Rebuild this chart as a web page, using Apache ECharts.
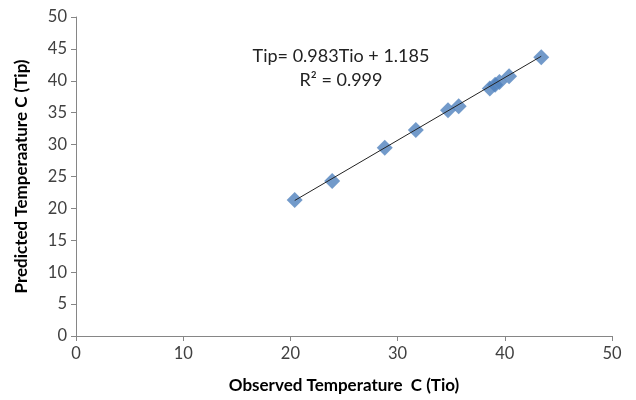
<!DOCTYPE html>
<html><head><meta charset="utf-8">
<script src="https://cdn.jsdelivr.net/npm/echarts@6/dist/echarts.min.js"></script>
<style>html,body{margin:0;padding:0;background:#fff}#c{width:636px;height:400px}</style>
</head><body><div id="c"></div>
<script>
var observed = [20.4, 23.9, 28.8, 31.7, 34.7, 35.7, 38.6, 39.1, 39.5, 40.4, 43.4];
var predicted = [21.3, 24.3, 29.5, 32.3, 35.4, 36.0, 38.8, 39.4, 39.8, 40.7, 43.7];
var slope = 0.983, intercept = 1.185;
var trendX = [20.4, 43.4];
var xTicks = [0, 10, 20, 30, 40, 50];
var yTicks = [0, 5, 10, 15, 20, 25, 30, 35, 40, 45, 50];
var eqText = 'Tip= 0.983Tio + 1.185';
var r2Text = 'R² = 0.999';
var xTitle = 'Observed Temperature  C (Tio)';
var yTitle = 'Predicted Temperaature C (Tip)';

var pts = observed.map(function(x, i){ return [x, predicted[i]]; });
var trend = trendX.map(function(x){ return [x, slope * x + intercept]; });
var FONT = 'Lato, "Open Sans", sans-serif';
var chart = echarts.init(document.getElementById('c'), null, {renderer:'canvas'});
chart.setOption({
  animation:false,
  grid:{left:76, right:24, top:17, bottom:64},
  xAxis:{type:'value', min:0, max:50, interval:10,
    axisLine:{lineStyle:{color:'#868686'}},
    axisTick:{show:true, length:5, lineStyle:{color:'#868686'}},
    splitLine:{show:false},
    axisLabel:{color:'#404040', fontSize:16.5, fontFamily:FONT, margin:9},
    name:xTitle, nameLocation:'middle', nameGap:41,
    nameTextStyle:{color:'#000', fontSize:17, fontWeight:'bold', fontFamily:FONT}},
  yAxis:{type:'value', min:0, max:50, interval:5,
    axisLine:{show:true, lineStyle:{color:'#868686'}},
    axisTick:{show:true, length:5, lineStyle:{color:'#868686'}},
    splitLine:{show:false},
    axisLabel:{color:'#404040', fontSize:16.5, fontFamily:FONT, margin:9},
    name:yTitle, nameLocation:'middle', nameGap:46, nameRotate:90,
    nameTextStyle:{color:'#000', fontSize:17, fontWeight:'bold', fontFamily:FONT}},
  series:[
    {type:'line', data:trend, symbol:'none', lineStyle:{color:'#222', width:1}, z:3},
    {type:'scatter', data:pts, symbol:'diamond', symbolSize:[16,16],
      itemStyle:{color:'#4F81BD'}, z:2}
  ],
  graphic:[
    {type:'text', x:341, y:47, style:{text:eqText, fill:'#222', font:'18px '+FONT, textAlign:'center'}},
    {type:'text', x:341, y:71, style:{text:r2Text, fill:'#222', font:'18px '+FONT, textAlign:'center'}}
  ]
});
</script></body></html>
